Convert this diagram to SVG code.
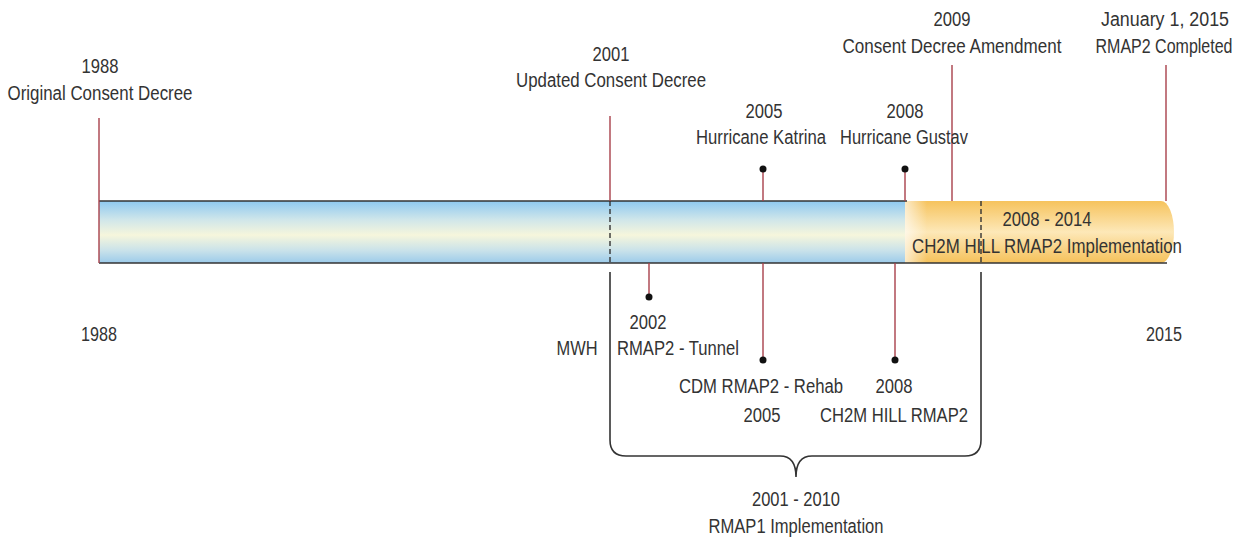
<svg xmlns="http://www.w3.org/2000/svg" width="1249" height="537" viewBox="0 0 1249 537">
  <defs>
    <linearGradient id="blueGrad" x1="0" y1="0" x2="0" y2="1">
      <stop offset="0" stop-color="#8ec9f0"/>
      <stop offset="0.3" stop-color="#cfe6ea"/>
      <stop offset="0.55" stop-color="#f6f6dc"/>
      <stop offset="0.8" stop-color="#c9e2ea"/>
      <stop offset="1" stop-color="#9ccbea"/>
    </linearGradient>
    <linearGradient id="orangeGrad" x1="0" y1="0" x2="0" y2="1">
      <stop offset="0" stop-color="#f6c35d"/>
      <stop offset="0.5" stop-color="#fde8b8"/>
      <stop offset="1" stop-color="#f5c15a"/>
    </linearGradient>
    <linearGradient id="fadeGrad" x1="0" y1="0" x2="1" y2="0">
      <stop offset="0" stop-color="#ffffff" stop-opacity="0.65"/>
      <stop offset="1" stop-color="#ffffff" stop-opacity="0"/>
    </linearGradient>
    <style>
      text { font-family: "Liberation Sans Narrow", "Liberation Sans", Arial, sans-serif; font-size: 20px; fill: #333333; text-anchor: middle; }
      .red { stroke: #a8404a; stroke-width: 1.4; fill: none; }
      .dark { stroke: #333333; stroke-width: 1.6; fill: none; }
      .dash { stroke: #333333; stroke-width: 1.4; stroke-dasharray: 5 3; fill: none; }
      .dot { fill: #111111; }
    </style>
  </defs>

  <g id="timeline-bar">
    <rect x="99" y="201" width="813" height="62" fill="url(#blueGrad)"/>
    <path d="M905,201 H1161 A13,31 0 0 1 1161,263 H905 Z" fill="url(#orangeGrad)"/>
    <rect x="905" y="201" width="22" height="62" fill="url(#fadeGrad)"/>
    <line class="dark" x1="99" y1="201" x2="907" y2="201"/>
    <line class="dark" x1="99" y1="263" x2="1167" y2="263"/>
  </g>

  <g id="connectors">
    <line class="red" x1="99" y1="118" x2="99" y2="263"/>
    <line class="red" x1="610" y1="116" x2="610" y2="201"/>
    <line class="dash" x1="610" y1="201" x2="610" y2="263"/>
    <line class="red" x1="952" y1="65" x2="952" y2="201"/>
    <line class="red" x1="1166" y1="65" x2="1166" y2="201"/>
    <line class="red" x1="763" y1="169" x2="763" y2="201"/>
    <line class="red" x1="905" y1="169" x2="905" y2="201"/>
    <line class="red" x1="649" y1="263" x2="649" y2="297"/>
    <line class="red" x1="763" y1="263" x2="763" y2="360"/>
    <line class="red" x1="895" y1="263" x2="895" y2="360"/>
    <line class="dash" x1="981" y1="201" x2="981" y2="263"/>
    <path class="dark" d="M610,272 V440 Q610,456 626,456 H780 Q796,456 796,477 Q796,456 812,456 H965 Q981,456 981,440 V272"/>
    <circle class="dot" cx="763" cy="169" r="3.5"/>
    <circle class="dot" cx="905" cy="169" r="3.5"/>
    <circle class="dot" cx="649" cy="297" r="3.5"/>
    <circle class="dot" cx="763" cy="360" r="3.5"/>
    <circle class="dot" cx="895" cy="360" r="3.5"/>
  </g>

  <g id="node-1988-original">
    <text x="100" y="73" textLength="37" lengthAdjust="spacingAndGlyphs">1988</text>
    <text x="100" y="100" textLength="185" lengthAdjust="spacingAndGlyphs">Original Consent Decree</text>
  </g>
  <g id="node-2001-updated">
    <text x="611" y="61" textLength="37" lengthAdjust="spacingAndGlyphs">2001</text>
    <text x="611" y="87" textLength="190" lengthAdjust="spacingAndGlyphs">Updated Consent Decree</text>
  </g>
  <g id="node-2005-katrina">
    <text x="764" y="118" textLength="37" lengthAdjust="spacingAndGlyphs">2005</text>
    <text x="761" y="144" textLength="130" lengthAdjust="spacingAndGlyphs">Hurricane Katrina</text>
  </g>
  <g id="node-2008-gustav">
    <text x="905" y="118" textLength="37" lengthAdjust="spacingAndGlyphs">2008</text>
    <text x="904" y="144" textLength="128" lengthAdjust="spacingAndGlyphs">Hurricane Gustav</text>
  </g>
  <g id="node-2009-amendment">
    <text x="952" y="26" textLength="37" lengthAdjust="spacingAndGlyphs">2009</text>
    <text x="952" y="53" textLength="219" lengthAdjust="spacingAndGlyphs">Consent Decree Amendment</text>
  </g>
  <g id="node-2015-completed">
    <text x="1165" y="26" textLength="128" lengthAdjust="spacingAndGlyphs">January 1, 2015</text>
    <text x="1164" y="53" textLength="137" lengthAdjust="spacingAndGlyphs">RMAP2 Completed</text>
  </g>
  <g id="node-ch2m-implementation">
    <text x="1047" y="226" textLength="89" lengthAdjust="spacingAndGlyphs">2008 - 2014</text>
    <text x="1047" y="253" textLength="270" lengthAdjust="spacingAndGlyphs">CH2M HILL RMAP2 Implementation</text>
  </g>
  <g id="node-axis-1988">
    <text x="99" y="341" textLength="36" lengthAdjust="spacingAndGlyphs">1988</text>
  </g>
  <g id="node-axis-2015">
    <text x="1164" y="341" textLength="36" lengthAdjust="spacingAndGlyphs">2015</text>
  </g>
  <g id="node-mwh">
    <text x="577" y="355" textLength="41" lengthAdjust="spacingAndGlyphs">MWH</text>
  </g>
  <g id="node-2002-tunnel">
    <text x="648" y="329" textLength="37" lengthAdjust="spacingAndGlyphs">2002</text>
    <text x="678" y="355" textLength="122" lengthAdjust="spacingAndGlyphs">RMAP2 - Tunnel</text>
  </g>
  <g id="node-2005-cdm">
    <text x="761" y="393" textLength="164" lengthAdjust="spacingAndGlyphs">CDM RMAP2 - Rehab</text>
    <text x="762" y="422" textLength="37" lengthAdjust="spacingAndGlyphs">2005</text>
  </g>
  <g id="node-2008-ch2m">
    <text x="894" y="393" textLength="37" lengthAdjust="spacingAndGlyphs">2008</text>
    <text x="894" y="422" textLength="148" lengthAdjust="spacingAndGlyphs">CH2M HILL RMAP2</text>
  </g>
  <g id="node-rmap1">
    <text x="796" y="506" textLength="88" lengthAdjust="spacingAndGlyphs">2001 - 2010</text>
    <text x="796" y="533" textLength="175" lengthAdjust="spacingAndGlyphs">RMAP1 Implementation</text>
  </g>
</svg>
